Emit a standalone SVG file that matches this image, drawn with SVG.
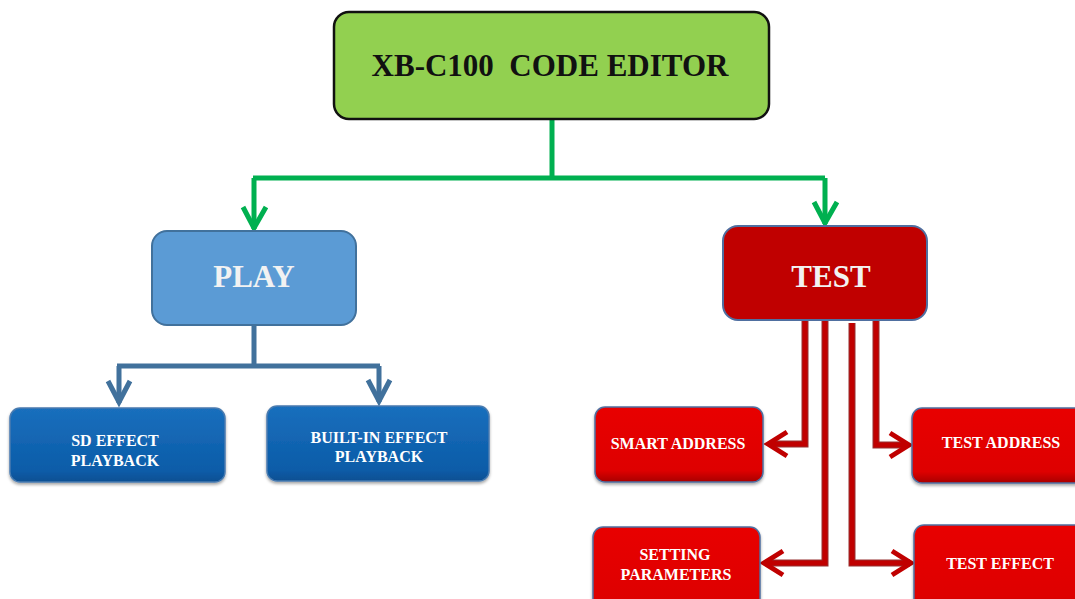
<svg xmlns="http://www.w3.org/2000/svg" width="1075" height="599" viewBox="0 0 1075 599">
<defs>
<linearGradient id="gBlue" x1="0" y1="0" x2="0" y2="1">
<stop offset="0" stop-color="#1a6fbd"/><stop offset="0.85" stop-color="#0b5ca8"/><stop offset="1" stop-color="#0a4f92"/>
</linearGradient>
<linearGradient id="gRed" x1="0" y1="0" x2="0" y2="1">
<stop offset="0" stop-color="#e80000"/><stop offset="0.85" stop-color="#de0000"/><stop offset="1" stop-color="#a80000"/>
</linearGradient>
<filter id="sh" x="-10%" y="-10%" width="120%" height="130%">
<feDropShadow dx="0" dy="2" stdDeviation="1.5" flood-color="#000" flood-opacity="0.35"/>
</filter>
</defs>
<style>
.t{font-family:"Liberation Serif","Times New Roman",serif;font-weight:bold;text-anchor:middle;white-space:pre}
.big{font-size:31px}
.sm{font-size:16px;fill:#fff}
.g{fill:none;stroke:#00b050;stroke-width:5}
.b{fill:none;stroke:#41719c;stroke-width:5}
.r{fill:none;stroke:#c00000;stroke-width:5}
.ro{fill:none;stroke:#8b1a1a;stroke-width:7}
</style>
<rect width="1075" height="599" fill="#fff"/>
<g id="connectors">
<path class="g" d="M552,119 V178 M253,178 H825 M254,178 V229 M825,178 V224"/>
<path class="g" d="M243,207 L254,228 L266,207 M814,202 L825,223 L837,202"/>
<path class="b" d="M254,325 V366 M117,366 H380 M119,366 V403 M379,366 V402"/>
<path class="b" d="M108,381 L119,402 L130,381 M368,380 L379,401 L390,380"/>
<g opacity="0.9">
<path class="ro" d="M805,320 V444 H770 M825,320 V563 H766 M852,323 V563 H910 M876,320 V445 H907"/>
</g>
<path class="r" d="M805,320 V444 H770 M825,320 V563 H766 M852,323 V563 H910 M876,320 V445 H907"/>
<path class="r" d="M787,432 L768,444 L787,456 M783,551 L764,563 L783,575 M892,551 L911,563 L892,575 M890,433 L909,445 L890,457"/>
</g>
<g id="editor">
<rect x="334" y="12" width="435" height="107" rx="15" fill="#92d050" stroke="#111" stroke-width="2.5"/>
<text class="t big" x="550" y="76" fill="#111" xml:space="preserve">XB-C100  CODE EDITOR</text>
</g>
<g id="play">
<rect x="152" y="231" width="204" height="94" rx="15" fill="#5b9bd5" stroke="#41719c" stroke-width="2"/>
<text class="t big" x="254" y="287" fill="#f2f2f2">PLAY</text>
</g>
<g id="sd">
<rect x="10" y="408" width="215" height="74" rx="10" fill="url(#gBlue)" stroke="#4a7bb0" stroke-width="1.5" filter="url(#sh)"/>
<text class="t sm" x="115" y="446">SD EFFECT</text>
<text class="t sm" x="115" y="466">PLAYBACK</text>
</g>
<g id="builtin">
<rect x="267" y="406" width="222" height="75" rx="10" fill="url(#gBlue)" stroke="#4a7bb0" stroke-width="1.5" filter="url(#sh)"/>
<text class="t sm" x="379" y="443">BUILT-IN EFFECT</text>
<text class="t sm" x="379" y="462">PLAYBACK</text>
</g>
<g id="test">
<rect x="723" y="226" width="204" height="94" rx="15" fill="#c00000" stroke="#4f6fa0" stroke-width="2"/>
<text class="t big" x="831" y="287" fill="#f2f2f2">TEST</text>
</g>
<g id="smart">
<rect x="595" y="407" width="168" height="75" rx="10" fill="url(#gRed)" stroke="#4f6fa0" stroke-width="1.5" filter="url(#sh)"/>
<text class="t sm" x="678" y="449">SMART ADDRESS</text>
</g>
<g id="testaddr">
<rect x="912" y="408" width="175" height="75" rx="10" fill="url(#gRed)" stroke="#4f6fa0" stroke-width="1.5" filter="url(#sh)"/>
<text class="t sm" x="1001" y="448">TEST ADDRESS</text>
</g>
<g id="setting">
<rect x="593" y="527" width="167" height="85" rx="10" fill="url(#gRed)" stroke="#4f6fa0" stroke-width="1.5" filter="url(#sh)"/>
<text class="t sm" x="675" y="560">SETTING</text>
<text class="t sm" x="676" y="580">PARAMETERS</text>
</g>
<g id="testeffect">
<rect x="914" y="525" width="175" height="85" rx="10" fill="url(#gRed)" stroke="#4f6fa0" stroke-width="1.5" filter="url(#sh)"/>
<text class="t sm" x="1000" y="569">TEST EFFECT</text>
</g>
</svg>
